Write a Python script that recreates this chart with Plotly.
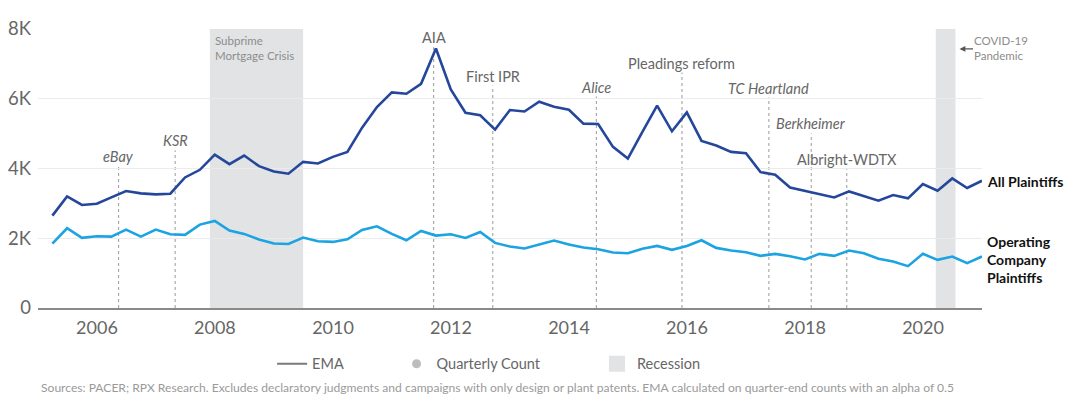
import pandas as pd
import plotly.graph_objects as go

# ---- data -------------------------------------------------------------
quarters = pd.date_range("2005-03-31", "2020-12-31", freq="QE")

all_plaintiffs = [
    2648, 3200, 2954, 2991, 3171, 3354, 3286, 3257, 3277, 3743, 3963, 4400,
    4125, 4371, 4068, 3914, 3850, 4191, 4143, 4334, 4477, 5172, 5763, 6182,
    6143, 6429, 7439, 6268, 5600, 5525, 5115, 5677, 5635, 5914, 5771, 5686,
    5286, 5277, 4620, 4286, 5048, 5800, 5067, 5610, 4791, 4657, 4477, 4439,
    3895, 3820, 3457, 3362, 3286, 3171, 3343, 3200, 3077, 3240, 3143, 3553,
    3362, 3714, 3440, 3648,
]
operating_company = [
    1848, 2286, 2011, 2057, 2048, 2248, 2048, 2248, 2114, 2096, 2391, 2496,
    2220, 2125, 1962, 1848, 1835, 2020, 1914, 1895, 1972, 2238, 2343, 2124,
    1943, 2210, 2077, 2115, 2010, 2181, 1867, 1762, 1705, 1810, 1934, 1819,
    1734, 1686, 1591, 1572, 1696, 1781, 1667, 1781, 1943, 1724, 1648, 1600,
    1495, 1552, 1486, 1391, 1552, 1495, 1648, 1572, 1410, 1333, 1200, 1552,
    1381, 1476, 1286, 1476,
]

event_names = ["eBay", "KSR", "AIA", "First IPR", "Alice", "Pleadings reform",
               "TC Heartland", "Berkheimer", "Albright-WDTX"]
event_dates = ["2006-05-15", "2007-04-30", "2011-09-16", "2012-09-16",
               "2014-06-19", "2015-12-01", "2017-05-22", "2018-02-08",
               "2018-09-16"]
event_label_y = [4330, 4790, 7750, 6650, 6335, 7020, 6305, 5277, 4250]
event_italic = [True, True, False, False, True, False, True, True, False]

recession_starts = ["2007-12-01", "2020-03-20"]
recession_ends = ["2009-06-30", "2020-07-20"]

year_ticks = [str(y) for y in range(2006, 2021, 2)]
y_ticks = [0, 2000, 4000, 6000, 8000]
y_tick_text = ["0", "2K", "4K", "6K", "8K"]

legend_names = ["EMA", "Quarterly Count", "Recession"]

source_note = ("Sources: PACER; RPX Research. Excludes declaratory judgments and campaigns "
               "with only design or plant patents. EMA calculated on quarter-end counts "
               "with an alpha of 0.5")

# ---- style ------------------------------------------------------------
FONT = "Lato"
DARK = "#24479c"
LIGHT = "#1ba3e2"
GREY_TXT = "#666666"
BAND = "#e2e3e5"
NB = "\u00a0"

fig = go.Figure()

fig.add_trace(go.Scatter(x=quarters, y=all_plaintiffs, mode="lines",
                         line=dict(color=DARK, width=2.6), showlegend=False,
                         hoverinfo="skip"))
fig.add_trace(go.Scatter(x=quarters, y=operating_company, mode="lines",
                         line=dict(color=LIGHT, width=2.6), showlegend=False,
                         hoverinfo="skip"))

# legend-only entries (trailing non-breaking spaces widen the gaps between items)
fig.add_trace(go.Scatter(x=[None], y=[None], mode="lines",
                         name=legend_names[0] + NB * 13,
                         line=dict(color="#7a7a7a", width=2)))
fig.add_trace(go.Scatter(x=[None], y=[None], mode="markers",
                         name=legend_names[1] + NB * 14,
                         marker=dict(color="#bdbdbd", size=9)))
fig.add_trace(go.Scatter(x=[None], y=[None], mode="markers",
                         name=legend_names[2],
                         marker=dict(color=BAND, size=16, symbol="square")))

shapes = []
for s, e in zip(recession_starts, recession_ends):
    shapes.append(dict(type="rect", xref="x", yref="y", x0=s, x1=e, y0=0, y1=8000,
                       fillcolor=BAND, line=dict(width=0), layer="below"))

annotations = []
for name, d, ly, it in zip(event_names, event_dates, event_label_y, event_italic):
    shapes.append(dict(type="line", xref="x", yref="y", x0=d, x1=d, y0=0, y1=ly - 270,
                       line=dict(color="#9a9a9a", width=1, dash="dot"), layer="below"))
    annotations.append(dict(x=d, y=ly, xref="x", yref="y", showarrow=False,
                            text=f"<i>{name}</i>" if it else name,
                            font=dict(family=FONT, size=14.5, color=GREY_TXT),
                            xanchor="center", yanchor="middle"))

annotations.append(dict(x=recession_starts[0], y=8000, xref="x", yref="y",
                        xanchor="left", yanchor="top", xshift=3, yshift=-3,
                        showarrow=False, align="left",
                        text="Subprime<br>Mortgage Crisis",
                        font=dict(family=FONT, size=11.5, color="#8c8c8c")))
annotations.append(dict(x=quarters[-1], y=8000, xref="x", yref="y",
                        xanchor="left", yanchor="top", xshift=-10, yshift=-3,
                        showarrow=False, align="left",
                        text="COVID-19<br>Pandemic",
                        font=dict(family=FONT, size=11.5, color="#8c8c8c")))
annotations.append(dict(x=recession_ends[1], y=7430, xref="x", yref="y",
                        ax=19, ay=0, axref="pixel", ayref="pixel", text="",
                        showarrow=True, arrowhead=2, arrowsize=0.9, arrowwidth=1.3,
                        arrowcolor="#555555", standoff=4))

annotations.append(dict(x=quarters[-1], y=all_plaintiffs[-1], xref="x", yref="y",
                        xanchor="left", yanchor="middle", xshift=3, yshift=-1,
                        showarrow=False, text="<b>All Plaintiffs</b>",
                        font=dict(family=FONT, size=14, color="#111111")))
annotations.append(dict(x=quarters[-1], y=operating_company[-1], xref="x", yref="y",
                        xanchor="left", yanchor="middle", xshift=3, yshift=-3,
                        showarrow=False, align="left",
                        text="<b>Operating<br>Company<br>Plaintiffs</b>",
                        font=dict(family=FONT, size=14, color="#111111")))

annotations.append(dict(x=0.001, y=-0.285, xref="paper", yref="paper",
                        xanchor="left", yanchor="middle", showarrow=False,
                        text=source_note,
                        font=dict(family=FONT, size=12.1, color="#9a9a9a")))

# page body has an 8px default margin: figure is sized/offset to compensate
fig.update_layout(
    width=1072, height=393,
    margin=dict(l=30, r=98, t=21, b=93, autoexpand=False),
    paper_bgcolor="white", plot_bgcolor="white",
    font=dict(family=FONT, color=GREY_TXT),
    shapes=shapes, annotations=annotations,
    showlegend=True,
    legend=dict(orientation="h", x=0.248, xanchor="left", y=-0.2, yanchor="middle",
                font=dict(family=FONT, size=14.5, color=GREY_TXT),
                bgcolor="rgba(0,0,0,0)", traceorder="normal"),
    xaxis=dict(type="date", range=["2005-01-01", "2020-12-31"], automargin=False,
               tickvals=[f"{y}-01-01" for y in year_ticks], ticktext=year_ticks,
               showgrid=False, zeroline=False, showline=True, linecolor="#8a8a8a",
               linewidth=1.5, ticks="", ticklabelstandoff=3,
               tickfont=dict(family=FONT, size=18, color=GREY_TXT), fixedrange=True),
    yaxis=dict(range=[0, 8000], tickvals=y_ticks, ticktext=y_tick_text, automargin=False,
               showgrid=True, gridcolor="#ebebeb", gridwidth=1, zeroline=False,
               showline=False, ticks="", ticklabelstandoff=6,
               tickfont=dict(family=FONT, size=18.5, color=GREY_TXT), fixedrange=True),
)

fig.write_html("out.html")
